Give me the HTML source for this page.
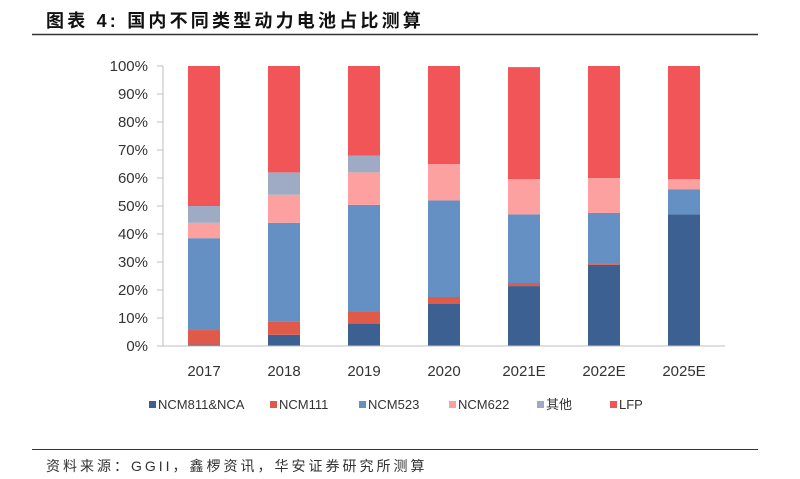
<!DOCTYPE html>
<html><head><meta charset="utf-8"><style>
body{margin:0;background:#fff;width:800px;height:479px;overflow:hidden}
svg{display:block}
text{font-family:"Liberation Sans","Noto Sans CJK SC",sans-serif}
</style></head><body>
<svg width="800" height="479" xmlns="http://www.w3.org/2000/svg">
<text x="46" y="27" font-size="18" font-weight="bold" fill="#111" letter-spacing="3.2" font-family="'Liberation Serif','Noto Serif CJK SC',serif">图表 4:  国内不同类型动力电池占比测算</text>
<line x1="32" y1="34.5" x2="758" y2="34.5" stroke="#333" stroke-width="1.5"/>
<g>
<rect x="188" y="344.6" width="32" height="1.4" fill="#3b6091"/>
<rect x="188" y="330.04" width="32" height="14.56" fill="#e05a4a"/>
<rect x="188" y="238.2" width="32" height="91.84" fill="#6590c4"/>
<rect x="188" y="222.8" width="32" height="15.4" fill="#fca0a0"/>
<rect x="188" y="206" width="32" height="16.8" fill="#9fabc4"/>
<rect x="188" y="66" width="32" height="140" fill="#f25557"/>

<rect x="268" y="334.8" width="32" height="11.2" fill="#3b6091"/>
<rect x="268" y="321.92" width="32" height="12.88" fill="#e05a4a"/>
<rect x="268" y="222.8" width="32" height="99.12" fill="#6590c4"/>
<rect x="268" y="194.8" width="32" height="28" fill="#fca0a0"/>
<rect x="268" y="172.4" width="32" height="22.4" fill="#9fabc4"/>
<rect x="268" y="66" width="32" height="106.4" fill="#f25557"/>

<rect x="348" y="323.6" width="32" height="22.4" fill="#3b6091"/>
<rect x="348" y="311.56" width="32" height="12.04" fill="#e05a4a"/>
<rect x="348" y="204.88" width="32" height="106.68" fill="#6590c4"/>
<rect x="348" y="172.4" width="32" height="32.48" fill="#fca0a0"/>
<rect x="348" y="155.6" width="32" height="16.8" fill="#9fabc4"/>
<rect x="348" y="66" width="32" height="89.6" fill="#f25557"/>

<rect x="428" y="304" width="32" height="42" fill="#3b6091"/>
<rect x="428" y="297" width="32" height="7" fill="#e05a4a"/>
<rect x="428" y="200.4" width="32" height="96.6" fill="#6590c4"/>
<rect x="428" y="164" width="32" height="36.4" fill="#fca0a0"/>
<rect x="428" y="66" width="32" height="98" fill="#f25557"/>

<rect x="508" y="286.08" width="32" height="59.92" fill="#3b6091"/>
<rect x="508" y="283" width="32" height="3.08" fill="#e05a4a"/>
<rect x="508" y="214.4" width="32" height="68.6" fill="#6590c4"/>
<rect x="508" y="179.12" width="32" height="35.28" fill="#fca0a0"/>
<rect x="508" y="67.12" width="32" height="112" fill="#f25557"/>

<rect x="588" y="264.8" width="32" height="81.2" fill="#3b6091"/>
<rect x="588" y="263.12" width="32" height="1.68" fill="#e05a4a"/>
<rect x="588" y="213" width="32" height="50.12" fill="#6590c4"/>
<rect x="588" y="178" width="32" height="35" fill="#fca0a0"/>
<rect x="588" y="66" width="32" height="112" fill="#f25557"/>

<rect x="668" y="214.4" width="32" height="131.6" fill="#3b6091"/>
<rect x="668" y="189.2" width="32" height="25.2" fill="#6590c4"/>
<rect x="668" y="179.12" width="32" height="10.08" fill="#fca0a0"/>
<rect x="668" y="66" width="32" height="113.12" fill="#f25557"/>
</g>
<line x1="163" y1="66" x2="163" y2="346" stroke="#bfbfbf"/>
<line x1="163" y1="346" x2="725" y2="346" stroke="#bfbfbf"/>
<g stroke="#bfbfbf">
<line x1="157" y1="66" x2="163" y2="66"/><line x1="157" y1="94" x2="163" y2="94"/><line x1="157" y1="122" x2="163" y2="122"/><line x1="157" y1="150" x2="163" y2="150"/><line x1="157" y1="178" x2="163" y2="178"/><line x1="157" y1="206" x2="163" y2="206"/><line x1="157" y1="234" x2="163" y2="234"/><line x1="157" y1="262" x2="163" y2="262"/><line x1="157" y1="290" x2="163" y2="290"/><line x1="157" y1="318" x2="163" y2="318"/><line x1="157" y1="346" x2="163" y2="346"/>
</g>
<g font-size="15" fill="#333" text-anchor="end">
<text x="148" y="71">100%</text><text x="148" y="99">90%</text><text x="148" y="127">80%</text><text x="148" y="155">70%</text><text x="148" y="183">60%</text><text x="148" y="211">50%</text><text x="148" y="239">40%</text><text x="148" y="267">30%</text><text x="148" y="295">20%</text><text x="148" y="323">10%</text><text x="148" y="351">0%</text>
</g>
<g font-size="15" fill="#333" text-anchor="middle">
<text x="204" y="376">2017</text><text x="284" y="376">2018</text><text x="364" y="376">2019</text><text x="444" y="376">2020</text><text x="524" y="376">2021E</text><text x="604" y="376">2022E</text><text x="684" y="376">2025E</text>
</g>
<g font-size="13" fill="#333">
<rect x="149" y="401" width="7" height="7" fill="#3b6091"/><text x="158" y="409">NCM811&amp;NCA</text>
<rect x="270" y="401" width="7" height="7" fill="#e05a4a"/><text x="279" y="409">NCM111</text>
<rect x="359" y="401" width="7" height="7" fill="#6590c4"/><text x="368" y="409">NCM523</text>
<rect x="449" y="401" width="7" height="7" fill="#fca0a0"/><text x="458" y="409">NCM622</text>
<rect x="537" y="401" width="7" height="7" fill="#9fabc4"/><text x="546" y="409">其他</text>
<rect x="610" y="401" width="7" height="7" fill="#f25557"/><text x="619" y="409">LFP</text>
</g>
<line x1="32" y1="449.5" x2="758" y2="449.5" stroke="#333" stroke-width="1"/>
<text x="46" y="471" font-size="14" fill="#333" letter-spacing="3">资料来源：GGII，鑫椤资讯，华安证券研究所测算</text>
</svg>
</body></html>
